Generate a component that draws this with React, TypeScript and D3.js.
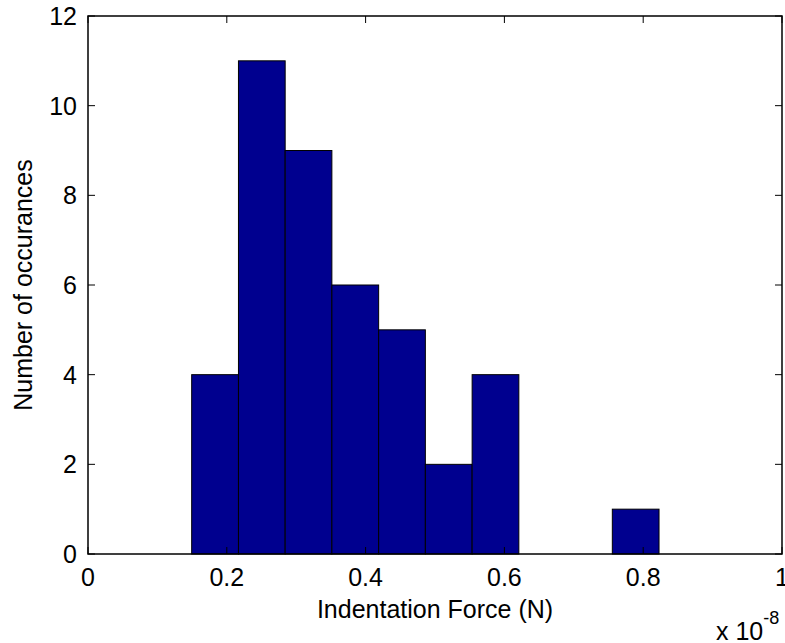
import React from "react";
import * as d3 from "d3";

// Histogram of indentation force (x 1e-8 N)
const binEdges = [0.1494, 0.2168, 0.2841, 0.3514, 0.4188, 0.4861, 0.5535, 0.6208, 0.6881, 0.7555, 0.8228];
const counts = [4, 11, 9, 6, 5, 2, 4, 0, 0, 1];
const xTicks = [0, 0.2, 0.4, 0.6, 0.8, 1];
const xTickLabels = ["0", "0.2", "0.4", "0.6", "0.8", "1"];
const yTicks = [0, 2, 4, 6, 8, 10, 12];

const W = 785;
const H = 643;
const L = 88, R = 782, T = 16, B = 554;
const FONT = "'Liberation Sans', Arial, sans-serif";
const FS = 25;
const TICK = 7;

export default function App() {
  const x = d3.scaleLinear().domain([0, 1]).range([L, R]);
  const y = d3.scaleLinear().domain([0, 12]).range([B, T]);
  const bins = counts.map((c, i) => ({ x0: binEdges[i], x1: binEdges[i + 1], c }));

  return (
    <svg
      width={W}
      height={H}
      style={{ position: "absolute", left: 0, top: 0, background: "#fff" }}
      fontFamily={FONT}
    >
      <rect x={0} y={0} width={W} height={H} fill="#fff" />
      {bins.filter(b => b.c > 0).map((b, i) => (
        <rect
          key={i}
          x={x(b.x0)}
          y={y(b.c)}
          width={x(b.x1) - x(b.x0)}
          height={y(0) - y(b.c)}
          fill="#00008F"
          stroke="#000"
          strokeWidth={1}
        />
      ))}
      {/* ticks */}
      {xTicks.map((t, i) => (
        <g key={"xt" + i}>
          <line x1={x(t)} x2={x(t)} y1={B} y2={B - TICK} stroke="#000" strokeWidth={1} />
          <line x1={x(t)} x2={x(t)} y1={T} y2={T + TICK} stroke="#000" strokeWidth={1} />
          <text x={x(t)} y={577} fontSize={FS} textAnchor="middle" dominantBaseline="central" fill="#000">
            {xTickLabels[i]}
          </text>
        </g>
      ))}
      {yTicks.map((t, i) => (
        <g key={"yt" + i}>
          <line x1={L} x2={L + TICK} y1={y(t)} y2={y(t)} stroke="#000" strokeWidth={1} />
          <line x1={R} x2={R - TICK} y1={y(t)} y2={y(t)} stroke="#000" strokeWidth={1} />
          <text x={77} y={y(t)} fontSize={FS} textAnchor="end" dominantBaseline="central" fill="#000">
            {t}
          </text>
        </g>
      ))}
      {/* box */}
      <rect x={L} y={T} width={R - L} height={B - T} fill="none" stroke="#000" strokeWidth={1.5} />
      {/* labels */}
      <text x={(L + R) / 2} y={609} fontSize={FS} textAnchor="middle" dominantBaseline="central" fill="#000">
        Indentation Force (N)
      </text>
      <text
        transform={`translate(23,${(T + B) / 2}) rotate(-90)`}
        fontSize={FS}
        textAnchor="middle"
        dominantBaseline="central"
        fill="#000"
      >
        Number of occurances
      </text>
      <text x={716} y={640} fontSize={FS} fill="#000">
        x 10
        <tspan dy={-16} fontSize={18}>-8</tspan>
      </text>
    </svg>
  );
}
